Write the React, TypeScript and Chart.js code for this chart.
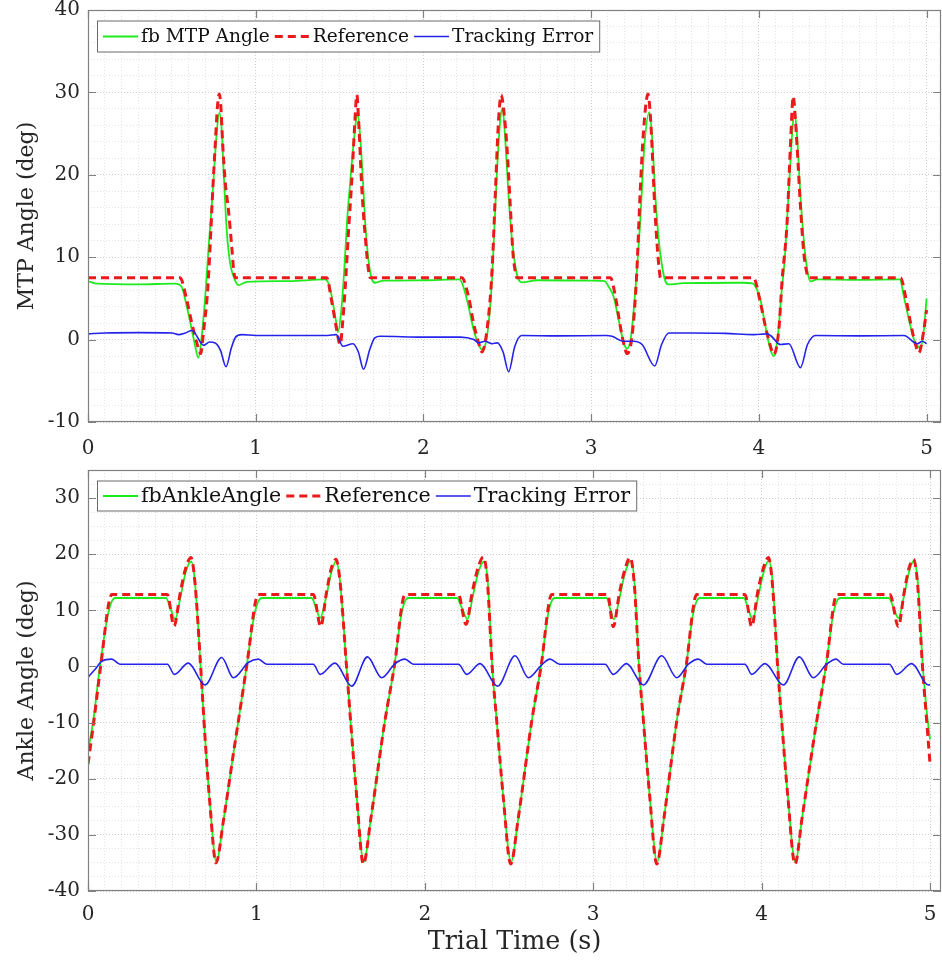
import React, { useEffect, useRef } from 'react';
import { Chart, registerables } from 'chart.js';

Chart.register(...registerables);

// ---------------- Data (time in s, angle in deg) ----------------
const mtpFeedback: [number, number][] = [
  [0, 7.1], [0.05, 6.8], [0.3, 6.7], [0.52, 6.8], [0.558, 6.4], [0.589, 4.0], [0.619, 1.2], [0.639, -0.8], [0.658, -2.2],
  [0.678, 0.4], [0.7, 5.5], [0.718, 10.9], [0.744, 18.0], [0.765, 24.5], [0.783, 27.5], [0.797, 25.5], [0.811, 19.4],
  [0.827, 13.3], [0.847, 9.3], [0.867, 7.7], [0.897, 6.6], [0.947, 7.0],
  [1.2, 7.1], [1.41, 7.3], [1.44, 6.5], [1.464, 4.0], [1.484, 1.6], [1.49, 0.9], [1.51, 3.5], [1.528, 8.5], [1.545, 14.5],
  [1.563, 19.0], [1.587, 24.5], [1.607, 27.5], [1.623, 24.6], [1.639, 19.4], [1.653, 14.1], [1.672, 9.7], [1.693, 7.3],
  [1.712, 6.9], [1.762, 7.15],
  [2.0, 7.2], [2.215, 7.3], [2.24, 6.3], [2.269, 4.0], [2.299, 1.2], [2.329, -0.6], [2.349, -1.2], [2.379, 0.4], [2.409, 7.3],
  [2.418, 11.3], [2.438, 20.2], [2.458, 26.7], [2.472, 28.1], [2.488, 24.2], [2.508, 17.4], [2.528, 12.1], [2.548, 8.9],
  [2.567, 7.3], [2.588, 6.95], [2.677, 7.2],
  [3.0, 7.15], [3.08, 7.1], [3.105, 6.4], [3.134, 5.2], [3.164, 2.4], [3.194, -0.4], [3.214, -1.1], [3.238, 0.4], [3.264, 6.1],
  [3.293, 14.5], [3.317, 23.4], [3.347, 27.6], [3.363, 24.6], [3.383, 17.4], [3.403, 12.1], [3.423, 8.9], [3.443, 7.07],
  [3.463, 6.7], [3.55, 6.85],
  [3.9, 6.9], [3.965, 6.8], [3.99, 6.0], [4.01, 4.8], [4.039, 1.6], [4.069, -1.2], [4.089, -2.0], [4.113, 0.4], [4.133, 5.2],
  [4.155, 10.0], [4.178, 18.0], [4.197, 24.5], [4.212, 27.7], [4.228, 24.6], [4.248, 17.4], [4.268, 12.1], [4.288, 8.5],
  [4.308, 7.07], [4.348, 7.3],
  [4.6, 7.25], [4.84, 7.3], [4.865, 5.2], [4.895, 2.4], [4.925, 0.0], [4.948, -0.8], [4.964, -1.0], [4.984, 1.2], [5.0, 5.0],
];

const mtpReference: [number, number][] = [
  [0, 7.5], [0.549, 7.5], [0.589, 4.8], [0.619, 2.0], [0.649, -0.4], [0.672, -1.7], [0.69, 1.2], [0.714, 6.1], [0.728, 11.3],
  [0.744, 18.2], [0.758, 23.4], [0.772, 28.3], [0.783, 29.8], [0.792, 28.3], [0.804, 23.4], [0.817, 19.4], [0.837, 15.8],
  [0.857, 11.3], [0.867, 8.8], [0.877, 7.5],
  [1.424, 7.5], [1.45, 5.0], [1.48, 1.5], [1.504, -0.6], [1.518, 2.0], [1.533, 6.1], [1.553, 13.0], [1.573, 19.4], [1.59, 26.0],
  [1.603, 29.7], [1.615, 26.0], [1.633, 18.2], [1.653, 12.5], [1.672, 8.5], [1.683, 7.5],
  [2.229, 7.5], [2.269, 5.2], [2.299, 2.0], [2.329, -0.4], [2.349, -1.5], [2.379, 1.2], [2.409, 8.3], [2.428, 17.4],
  [2.448, 26.7], [2.464, 29.7], [2.478, 28.0], [2.498, 23.4], [2.518, 16.2], [2.534, 10.5], [2.548, 8.2], [2.558, 7.5],
  [3.115, 7.5], [3.145, 5.2], [3.174, 1.6], [3.198, -0.8], [3.214, -1.7], [3.244, 0.4], [3.27, 7.3], [3.293, 18.2],
  [3.313, 25.5], [3.339, 29.8], [3.352, 27.5], [3.363, 23.4], [3.379, 16.2], [3.397, 10.5], [3.407, 8.3], [3.413, 7.5],
  [3.968, 7.5], [4.01, 4.4], [4.039, 1.6], [4.065, -0.5], [4.089, -1.8], [4.119, 1.2], [4.139, 7.3], [4.168, 14.1],
  [4.188, 23.4], [4.205, 29.5], [4.217, 27.0], [4.228, 23.4], [4.248, 16.2], [4.268, 10.5], [4.285, 8.2], [4.296, 7.5],
  [4.845, 7.5], [4.875, 5.2], [4.905, 2.0], [4.934, -0.6], [4.954, -1.6], [4.984, 1.2], [5.0, 3.6],
];

const mtpError: [number, number][] = [
  [0, 0.7], [0.1, 0.8], [0.3, 0.85], [0.5, 0.8], [0.54, 0.6], [0.58, 0.8], [0.62, 1.1], [0.69, -0.7], [0.725, -0.3],
  [0.758, -0.4], [0.79, -1.3], [0.823, -3.3], [0.855, -1.0], [0.88, 0.3], [0.917, 0.6], [1.0, 0.5], [1.2, 0.5], [1.43, 0.5],
  [1.48, 0.6], [1.52, -0.8], [1.58, -0.5], [1.612, -1.5], [1.643, -3.6], [1.68, -1.2], [1.71, 0.2], [1.742, 0.4], [2.0, 0.3],
  [2.22, 0.3], [2.3, 0.0], [2.33, -0.4], [2.367, -0.2], [2.41, -0.5], [2.44, -0.4], [2.475, -1.5], [2.508, -3.9],
  [2.545, -0.8], [2.585, 0.5], [2.8, 0.45], [3.09, 0.5], [3.124, 0.4], [3.194, -0.2], [3.254, -0.2], [3.304, -0.6],
  [3.379, -3.2], [3.42, -0.6], [3.463, 0.8], [3.6, 0.8], [3.8, 0.75], [3.97, 0.6], [4.05, 0.7], [4.07, 0.5], [4.129, -0.6],
  [4.179, -0.5], [4.248, -3.4], [4.29, -0.6], [4.338, 0.5], [4.6, 0.45], [4.865, 0.5], [4.945, -0.5], [4.975, -0.2], [5.0, -0.5],
];

const ankleFeedback: [number, number][] = [
  [0, -15], [0.031, -9.7], [0.071, 0], [0.12, 9.5], [0.16, 12.2], [0.463, 12.2], [0.49, 10.3], [0.517, 8.4], [0.55, 12.5],
  [0.58, 16.8], [0.612, 18.7], [0.635, 15], [0.669, 0], [0.695, -12.7], [0.724, -24.5], [0.762, -34.8],
  [0.804, -27.5], [0.863, -15.6], [0.893, -9.7], [0.942, 0], [0.99, 9.5], [1.031, 12.2], [1.328, 12.2], [1.355, 10.3],
  [1.378, 8.6], [1.415, 12.5], [1.445, 16.8], [1.473, 18.7], [1.497, 15], [1.535, 0], [1.56, -10], [1.595, -23], [1.637, -34.8],
  [1.68, -27], [1.763, -9.7], [1.819, 0], [1.862, 9.5], [1.9, 12.2], [2.19, 12.2], [2.222, 10.3], [2.253, 8.4], [2.285, 12.5],
  [2.318, 16.8], [2.352, 18.7], [2.374, 15], [2.4, 0], [2.427, -9.7], [2.465, -23], [2.512, -34.8],
  [2.555, -27], [2.635, -9.7], [2.69, 0], [2.733, 9.5], [2.77, 12.2], [3.08, 12.2], [3.1, 10.3], [3.123, 8.4], [3.158, 12.5],
  [3.19, 16.8], [3.223, 18.8], [3.245, 15], [3.272, 0], [3.298, -9.7], [3.335, -23], [3.379, -34.8],
  [3.42, -27], [3.496, -9.7], [3.551, 0], [3.594, 9.5], [3.632, 12.2], [3.895, 12.2], [3.92, 10.3], [3.947, 8.4], [3.98, 12.5],
  [4.012, 16.8], [4.042, 18.9], [4.065, 15], [4.095, 0], [4.119, -9.7], [4.155, -23], [4.2, -34.8],
  [4.24, -27], [4.327, -9.7], [4.382, 0], [4.426, 9.5], [4.465, 12.2], [4.755, 12.2], [4.785, 10.3], [4.812, 8.6], [4.845, 12.5],
  [4.875, 16.8], [4.903, 18.8], [4.927, 15], [4.957, 0], [4.982, -8.5], [5.0, -13],
];

const ankleReference: [number, number][] = [
  [0, -17.4], [0.035, -9.7], [0.075, 0], [0.141, 12.8], [0.471, 12.8], [0.511, 7.2], [0.547, 13], [0.58, 17.5], [0.612, 19.4],
  [0.635, 15], [0.669, 0], [0.695, -12.7], [0.724, -24.5], [0.76, -35],
  [0.804, -27.5], [0.863, -15.6], [0.893, -9.7], [0.942, 0], [1.011, 12.8], [1.338, 12.8], [1.382, 7.1], [1.415, 13],
  [1.445, 17.5], [1.473, 19.1], [1.497, 15], [1.535, 0], [1.56, -10], [1.595, -23], [1.635, -35.2],
  [1.68, -27], [1.763, -9.7], [1.819, 0], [1.882, 12.8], [2.199, 12.8], [2.245, 7.5], [2.28, 13], [2.315, 17.5], [2.348, 19.5],
  [2.372, 15], [2.4, 0], [2.427, -9.7], [2.465, -23], [2.51, -35.2],
  [2.555, -27], [2.635, -9.7], [2.69, 0], [2.753, 12.8], [3.086, 12.8], [3.119, 7.1], [3.155, 13], [3.19, 17.5], [3.219, 19.4],
  [3.243, 15], [3.272, 0], [3.298, -9.7], [3.335, -23], [3.377, -35.2],
  [3.42, -27], [3.496, -9.7], [3.551, 0], [3.614, 12.8], [3.901, 12.8], [3.941, 7.1], [3.975, 13], [4.01, 17.5], [4.04, 19.4],
  [4.063, 15], [4.095, 0], [4.119, -9.7], [4.155, -23], [4.198, -35.2],
  [4.24, -27], [4.327, -9.7], [4.382, 0], [4.446, 12.8], [4.762, 12.8], [4.812, 7.1], [4.845, 13], [4.875, 17.5], [4.901, 19.1],
  [4.925, 15], [4.955, 0], [4.98, -9.7], [5.0, -17.4],
];

const ankleError: [number, number][] = [
  [0, -1.9], [0.04, -0.6], [0.081, 0.9], [0.141, 1.3], [0.19, 0.4], [0.471, 0.4], [0.513, -1.4], [0.596, 0.6], [0.695, -3.3],
  [0.794, 1.6], [0.863, -2.0], [0.952, 0.7], [1.011, 1.3], [1.061, 0.4],
  [1.338, 0.4], [1.378, -1.4], [1.467, 0.6], [1.566, -3.5], [1.659, 1.7], [1.744, -2.0], [1.823, 0.5], [1.882, 1.3], [1.932, 0.4],
  [2.2, 0.4], [2.249, -1.4], [2.328, 0.5], [2.432, -3.5], [2.536, 1.9], [2.615, -2.0], [2.694, 0.3], [2.743, 1.3], [2.8, 0.4],
  [3.07, 0.4], [3.119, -1.4], [3.198, 0.5], [3.298, -3.3], [3.407, 1.9], [3.496, -2.0], [3.565, 0.4], [3.624, 1.3], [3.674, 0.4],
  [3.901, 0.4], [3.941, -1.4], [4.02, 0.5], [4.129, -3.3], [4.224, 1.7], [4.307, -2.0], [4.386, 0.4], [4.442, 1.3], [4.485, 0.4],
  [4.759, 0.4], [4.802, -1.4], [4.891, 0.5], [4.99, -3.3], [5.0, -3.2],
];

const mtpLegend = ['fb MTP Angle', 'Reference', 'Tracking Error'];
const ankleLegend = ['fbAnkleAngle', 'Reference', 'Tracking Error'];
const xMajorTicks = [0, 1, 2, 3, 4, 5];
const mtpYTicks = [-10, 0, 10, 20, 30, 40];
const ankleYTicks = [-40, -30, -20, -10, 0, 10, 20, 30];

// ---------------- Styling ----------------
const FONT = "'DejaVu Serif', serif";
const TEXT = '#262626';
const AXIS = '#808080';
const GRID_MAJOR = '#cdcdcd';
const GRID_MINOR = '#e3e3e3';
const GREEN = 'rgb(30,235,30)';
const RED = 'rgb(235,25,25)';
const BLUE = 'rgb(35,35,235)';

const near = (v: number, list: number[]) => list.some((t) => Math.abs(t - v) < 1e-6);

interface PanelSpec {
  fb: [number, number][];
  ref: [number, number][];
  err: [number, number][];
  legend: string[];
  legendFont: number;
  legendHeight: number;
  yMin: number;
  yMax: number;
  yMinorStep: number;
  yTicks: number[];
  xMax: number;
  yTitle: string;
  xTitle?: string;
  xAxisHeight: number;
  xTickLineHeight: number;
  padTop: number;
}

const framePlugin = {
  id: 'matlabFrame',
  afterDatasetsDraw(chart: any, _args: any, opts: any) {
    const { ctx, chartArea } = chart;
    const { left, top, right, bottom } = chartArea;
    const xs = chart.scales.x;
    const ys = chart.scales.y;
    const TL = 8;
    ctx.save();
    ctx.strokeStyle = AXIS;
    ctx.lineWidth = 1.2;
    ctx.setLineDash([]);
    ctx.strokeRect(left + 0.5, top + 0.5, right - left - 1, bottom - top - 1);
    ctx.beginPath();
    for (const v of xMajorTicks) {
      const px = Math.round(xs.getPixelForValue(v)) + 0.5;
      ctx.moveTo(px, bottom);
      ctx.lineTo(px, bottom - TL);
      ctx.moveTo(px, top);
      ctx.lineTo(px, top + TL);
    }
    for (const v of opts.yTicks as number[]) {
      const py = Math.round(ys.getPixelForValue(v)) + 0.5;
      ctx.moveTo(left, py);
      ctx.lineTo(left + TL, py);
      ctx.moveTo(right, py);
      ctx.lineTo(right - TL, py);
    }
    ctx.stroke();
    ctx.restore();
  },
  afterDraw(chart: any, _args: any, opts: any) {
    const labels: string[] = opts.legend;
    const { ctx, chartArea } = chart;
    const ds = chart.data.datasets;
    ctx.save();
    ctx.font = `${opts.legendFont}px ${FONT}`;
    const left = 97;
    const top = chartArea.top + 10.5;
    const h = opts.legendHeight;
    const sample = 35;
    const gapS = 3;
    const gapT = 5;
    const pad = 6;
    let w = pad;
    labels.forEach((l, i) => {
      w += sample + gapS + ctx.measureText(l).width + (i < labels.length - 1 ? gapT : 0);
    });
    w += pad;
    ctx.fillStyle = '#ffffff';
    ctx.fillRect(left, top, w, h);
    ctx.strokeStyle = '#6a6a6a';
    ctx.lineWidth = 1;
    ctx.strokeRect(left + 0.5, top + 0.5, w, h);
    let x = left + pad;
    const cy = top + h / 2 + 0.5;
    labels.forEach((l, i) => {
      const d = ds[i];
      ctx.strokeStyle = d.borderColor;
      ctx.lineWidth = d.borderWidth;
      ctx.setLineDash(d.borderDash || []);
      ctx.beginPath();
      ctx.moveTo(x, cy);
      ctx.lineTo(x + sample, cy);
      ctx.stroke();
      ctx.setLineDash([]);
      x += sample + gapS;
      ctx.fillStyle = '#111111';
      ctx.textBaseline = 'middle';
      ctx.textAlign = 'left';
      ctx.fillText(l, x, cy + 1);
      x += ctx.measureText(l).width + gapT;
    });
    ctx.restore();
  },
};

function buildConfig(spec: PanelSpec): any {
  const toXY = (arr: [number, number][]) => arr.map(([x, y]) => ({ x, y }));
  const common = { pointRadius: 0, fill: false, cubicInterpolationMode: 'monotone' as const };
  return {
    type: 'line',
    data: {
      datasets: [
        { ...common, label: spec.legend[0], data: toXY(spec.fb), borderColor: GREEN, borderWidth: 1.8, order: 3 },
        { ...common, label: spec.legend[1], data: toXY(spec.ref), borderColor: RED, borderWidth: 3, borderDash: [8, 5], order: 2 },
        { ...common, label: spec.legend[2], data: toXY(spec.err), borderColor: BLUE, borderWidth: 1.6, order: 1 },
      ],
    },
    options: {
      animation: false,
      responsive: false,
      devicePixelRatio: 1,
      layout: { padding: { top: spec.padTop, right: 1, left: 0, bottom: 0 } },
      plugins: {
        legend: { display: false },
        tooltip: { enabled: false },
        matlabFrame: { legend: spec.legend, yTicks: spec.yTicks, legendFont: spec.legendFont, legendHeight: spec.legendHeight },
      },
      scales: {
        x: {
          type: 'linear',
          min: 0,
          max: spec.xMax,
          afterBuildTicks: (s: any) => {
            const t: any[] = [];
            const n = Math.floor(spec.xMax * 10 + 1e-6);
            for (let i = 0; i <= n; i++) t.push({ value: i / 10 });
            s.ticks = t;
          },
          afterFit: (s: any) => {
            s.height = spec.xAxisHeight;
          },
          ticks: {
            autoSkip: false,
            maxRotation: 0,
            padding: 0,
            color: TEXT,
            font: { family: FONT, size: 20, lineHeight: spec.xTickLineHeight },
            callback: (v: number) => (near(v, xMajorTicks) ? String(Math.round(v)) : ''),
          },
          grid: {
            drawTicks: false,
            lineWidth: 1,
            color: (c: any) => (near(c.tick.value, xMajorTicks) ? GRID_MAJOR : GRID_MINOR),
          },
          border: { display: false, dash: [1, 2] },
          title: spec.xTitle
            ? { display: true, text: spec.xTitle, color: TEXT, font: { family: FONT, size: 25.4 }, padding: { top: 0, bottom: 6 } }
            : { display: false },
        },
        y: {
          type: 'linear',
          min: spec.yMin,
          max: spec.yMax,
          afterBuildTicks: (s: any) => {
            const t: any[] = [];
            const n = Math.round((spec.yMax - spec.yMin) / spec.yMinorStep);
            for (let i = 0; i <= n; i++) t.push({ value: spec.yMin + i * spec.yMinorStep });
            s.ticks = t;
          },
          afterFit: (s: any) => {
            s.width = 88;
          },
          ticks: {
            autoSkip: false,
            padding: 8,
            color: TEXT,
            font: { family: FONT, size: 20, lineHeight: 0.1 },
            callback: (v: number) => (near(v, spec.yTicks) ? String(Math.round(v)) : ''),
          },
          grid: {
            drawTicks: false,
            lineWidth: 1,
            color: (c: any) => (near(c.tick.value, spec.yTicks) ? GRID_MAJOR : GRID_MINOR),
          },
          border: { display: false, dash: [1, 2] },
          title: { display: true, text: spec.yTitle, color: TEXT, font: { family: FONT, size: 22 }, padding: { top: 14, bottom: 0 } },
        },
      },
    },
    plugins: [framePlugin],
  };
}

function Panel({ spec, width, height, top }: { spec: PanelSpec; width: number; height: number; top: number }) {
  const ref = useRef<HTMLCanvasElement | null>(null);
  useEffect(() => {
    if (!ref.current) return;
    const chart = new Chart(ref.current, buildConfig(spec));
    return () => chart.destroy();
  }, [spec]);
  return (
    <canvas
      ref={ref}
      width={width}
      height={height}
      style={{ position: 'absolute', left: 0, top, width, height, display: 'block' }}
    />
  );
}

const mtpSpec: PanelSpec = {
  fb: mtpFeedback,
  ref: mtpReference,
  err: mtpError,
  legend: mtpLegend,
  legendFont: 18.6,
  legendHeight: 31,
  yMin: -10,
  yMax: 40,
  yMinorStep: 2,
  yTicks: mtpYTicks,
  xMax: 5.086,
  yTitle: 'MTP Angle (deg)',
  xAxisHeight: 38,
  xTickLineHeight: 2.7,
  padTop: 10,
};

const ankleSpec: PanelSpec = {
  fb: ankleFeedback,
  ref: ankleReference,
  err: ankleError,
  legend: ankleLegend,
  legendFont: 20.6,
  legendHeight: 30,
  yMin: -40,
  yMax: 35,
  yMinorStep: 2.5,
  yTicks: ankleYTicks,
  xMax: 5.065,
  yTitle: 'Ankle Angle (deg)',
  xTitle: 'Trial Time (s)',
  xAxisHeight: 73,
  xTickLineHeight: 2.4,
  padTop: 10,
};

export default function App() {
  return (
    <div style={{ position: 'absolute', left: 0, top: 0, width: 942, height: 964, background: '#ffffff', overflow: 'hidden' }}>
      <Panel spec={mtpSpec} width={942} height={460} top={0} />
      <Panel spec={ankleSpec} width={942} height={504} top={460} />
    </div>
  );
}
